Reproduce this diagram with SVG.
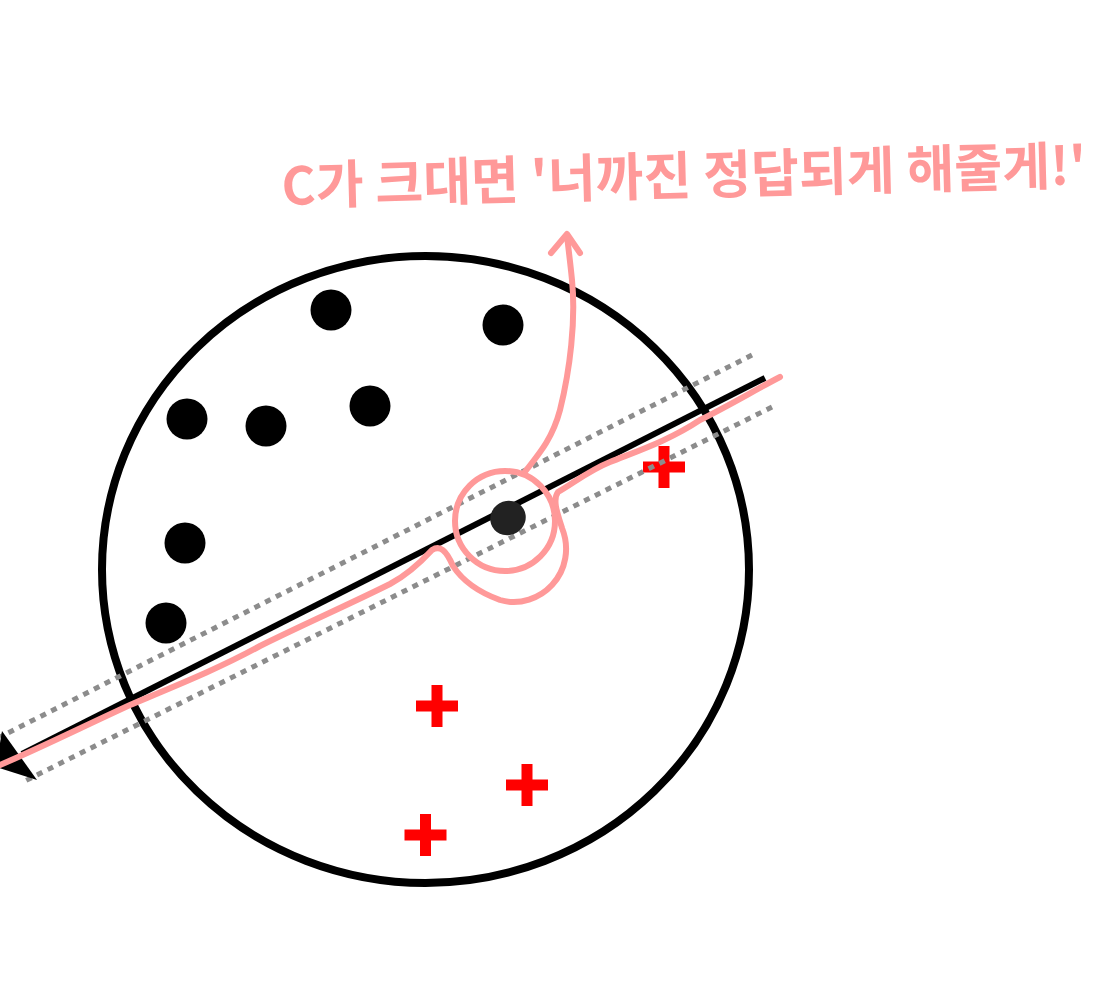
<svg xmlns="http://www.w3.org/2000/svg" width="1111" height="985" viewBox="0 0 1111 985">
<style>
.dot{fill:#000}
.cross{fill:#ff0000}
.dotted{stroke:#8c8c8c;stroke-width:5;stroke-dasharray:6 6;fill:none}
.pink{stroke:#ff9999;stroke-width:6;fill:none;stroke-linecap:round;stroke-linejoin:round}
.note{font-family:"Noto Sans CJK KR","Noto Sans",sans-serif;font-size:52px;font-weight:700;fill:#ff9999}
</style>
<defs>
<g id="plus"><rect x="-21" y="-5.5" width="42" height="11"/><rect x="-5.5" y="-21" width="11" height="42"/></g>
</defs>
<rect width="1111" height="985" fill="#fff"/>
<g id="boundary">
<ellipse cx="425.5" cy="569.5" rx="323.5" ry="313.5" fill="none" stroke="#000" stroke-width="8"/>
</g>
<g id="negatives">
<circle class="dot" cx="331" cy="310" r="20.5"/>
<circle class="dot" cx="503" cy="325" r="20.5"/>
<circle class="dot" cx="187" cy="419" r="20.5"/>
<circle class="dot" cx="266" cy="426" r="20.5"/>
<circle class="dot" cx="370" cy="406" r="20.5"/>
<circle class="dot" cx="185" cy="543" r="20.5"/>
<circle class="dot" cx="166" cy="623" r="20.5"/>
</g>
<g id="positives" class="cross">
<use href="#plus" x="664" y="467"/>
<use href="#plus" x="437" y="706"/>
<use href="#plus" x="527" y="785"/>
<use href="#plus" x="425.5" y="835"/>
</g>
<g id="connectors">
<line class="dotted" x1="752" y1="355" x2="0" y2="737"/>
<line class="dotted" x1="772" y1="407" x2="25" y2="781"/>
<line x1="765" y1="378" x2="22" y2="754" stroke="#000" stroke-width="6"/>
<polygon points="2,731 37,780 -4,767" fill="#000"/>
<path class="pink" d="M0,765 C40,748 80,728 130,705 C180,684 220,668 260,646 C300,626 350,604 390,584 C405,576 420,563 432,550 C440,545 446,550 453,566 C462,580 478,592 500,600 C520,606 540,598 552,585 C566,570 570,548 562,528 C558,515 552,500 558,492 C575,482 590,470 610,462 C640,450 670,440 700,420 C730,405 755,390 780,377"/>
<circle class="pink" cx="505" cy="521" r="50"/>
<path class="pink" d="M524,473 C538,455 552,440 560,410 C570,370 576,320 572,280 C570,260 568,245 567,236"/>
<polyline class="pink" points="551,253 567,234 580,253"/>
</g>
<g id="center-point">
<ellipse cx="508" cy="518" rx="18" ry="17" fill="#222" transform="rotate(-30 508 518)"/>
</g>
<g id="annotation">
<text class="note" x="282" y="205" textLength="805" lengthAdjust="spacing" transform="rotate(-1.5 282 205)">C가 크대면 '너까진 정답되게 해줄게!'</text>
</g>
</svg>
